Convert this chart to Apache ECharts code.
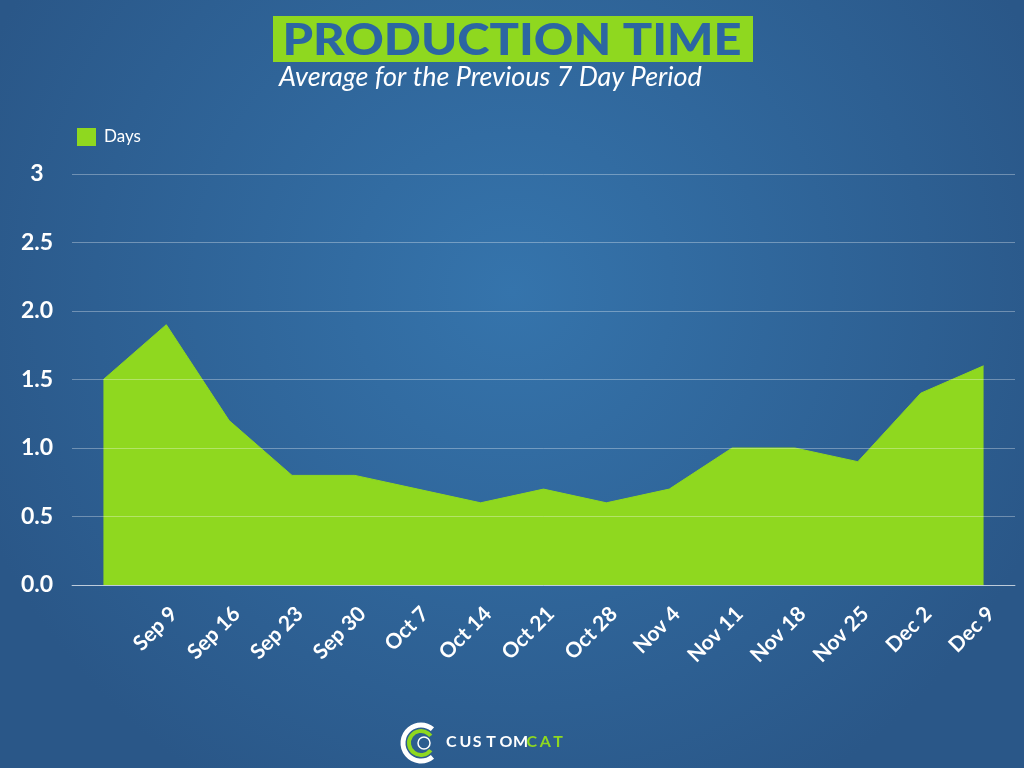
<!DOCTYPE html>
<html><head><meta charset="utf-8">
<script src="https://cdn.jsdelivr.net/npm/echarts@6/dist/echarts.min.js"></script>
<style>html,body{margin:0;padding:0;background:#2c5d8f}#c{width:1024px;height:768px}</style>
</head><body><div id="c"></div>
<script>
const categories = ['', 'Sep 9', 'Sep 16', 'Sep 23', 'Sep 30', 'Oct 7', 'Oct 14', 'Oct 21', 'Oct 28', 'Nov 4', 'Nov 11', 'Nov 18', 'Nov 25', 'Dec 2', 'Dec 9'];
const days = [1.5, 1.9, 1.2, 0.8, 0.8, 0.7, 0.6, 0.7, 0.6, 0.7, 1.0, 1.0, 0.9, 1.4, 1.6];
const yTickValues = [0, 0.5, 1, 1.5, 2, 2.5, 3];
const yTickLabels = ['0.0', '0.5', '1.0', '1.5', '2.0', '2.5', '3'];
const titleText = 'PRODUCTION TIME';
const subtitleText = 'Average for the Previous 7 Day Period';
const logoWhite = 'CUSTOM';
const logoGreen = 'CAT';

const GREEN = '#8fd81f';
const chart = echarts.init(document.getElementById('c'));

const logoLetters = [];
const letters = (logoWhite + logoGreen).split('');
letters.forEach((ch, i) => {
  logoLetters.push({
    type: 'text', x: 446 + i * 13.4, y: 734,
    style: { text: ch, fill: i < logoWhite.length ? '#ffffff' : GREEN, font: 'bold 16px Lato' }
  });
});

chart.setOption({
  backgroundColor: {
    type: 'radial', x: 0.5, y: 0.38, r: 0.75,
    colorStops: [{ offset: 0, color: '#3574ac' }, { offset: 1, color: '#2a5788' }]
  },
  legend: {
    left: 77, top: 128, padding: 0, itemWidth: 19, itemHeight: 18, itemGap: 8,
    icon: 'rect', data: ['Days'],
    textStyle: { color: '#ffffff', fontFamily: 'Lato', fontSize: 17, padding: [0, 0, 0, 3] }
  },
  grid: { left: 72, right: 9, top: 174, bottom: 183 },
  xAxis: {
    type: 'category', data: categories, boundaryGap: true,
    axisLine: { show: true, lineStyle: { color: 'rgba(255,255,255,0.55)', width: 1 } },
    axisTick: { show: false },
    axisLabel: {
      interval: 0, rotate: 45, align: 'right', verticalAlign: 'top', margin: 18,
      color: '#ffffff', fontFamily: 'Lato', fontWeight: 'bold', fontSize: 21
    }
  },
  yAxis: {
    type: 'value', min: 0, max: 3, interval: 0.5,
    axisLine: { show: false }, axisTick: { show: false },
    splitLine: { lineStyle: { color: 'rgba(255,255,255,0.32)', width: 1 } },
    axisLabel: {
      margin: 35, align: 'center', color: '#ffffff', fontFamily: 'Lato', fontWeight: 'bold', fontSize: 23,
      formatter: v => { const i = yTickValues.indexOf(v); return i >= 0 ? yTickLabels[i] : ''; }
    }
  },
  graphic: [
    { type: 'rect', shape: { x: 273, y: 16, width: 480, height: 46 }, style: { fill: GREEN } },
    { type: 'text', x: 512, y: 41, scaleX: 1.11,
      style: { text: titleText, fill: '#2c66a2', font: '900 44px Lato', align: 'center', verticalAlign: 'middle' } },
    { type: 'text', x: 279, y: 77,
      style: { text: subtitleText, fill: '#ffffff', font: 'italic 27px Lato', align: 'left', verticalAlign: 'middle' } },
    { type: 'arc', shape: { cx: 421, cy: 743, r: 18, startAngle: Math.PI * 0.28, endAngle: Math.PI * 1.72 },
      style: { stroke: '#ffffff', lineWidth: 5, fill: null } },
    { type: 'arc', shape: { cx: 421, cy: 743, r: 12, startAngle: Math.PI * 0.2, endAngle: Math.PI * 1.8 },
      style: { stroke: GREEN, lineWidth: 4, fill: null } },
    { type: 'circle', shape: { cx: 424, cy: 743, r: 6 }, style: { fill: '#2c5d8f', stroke: '#ffffff', lineWidth: 1.5 } }
  ].concat(logoLetters),
  series: [{
    name: 'Days', type: 'line', data: days, z: -1,
    symbol: 'none', smooth: false,
    lineStyle: { color: GREEN, width: 1 },
    itemStyle: { color: GREEN },
    areaStyle: { color: GREEN, opacity: 1 }
  }]
});
</script></body></html>
